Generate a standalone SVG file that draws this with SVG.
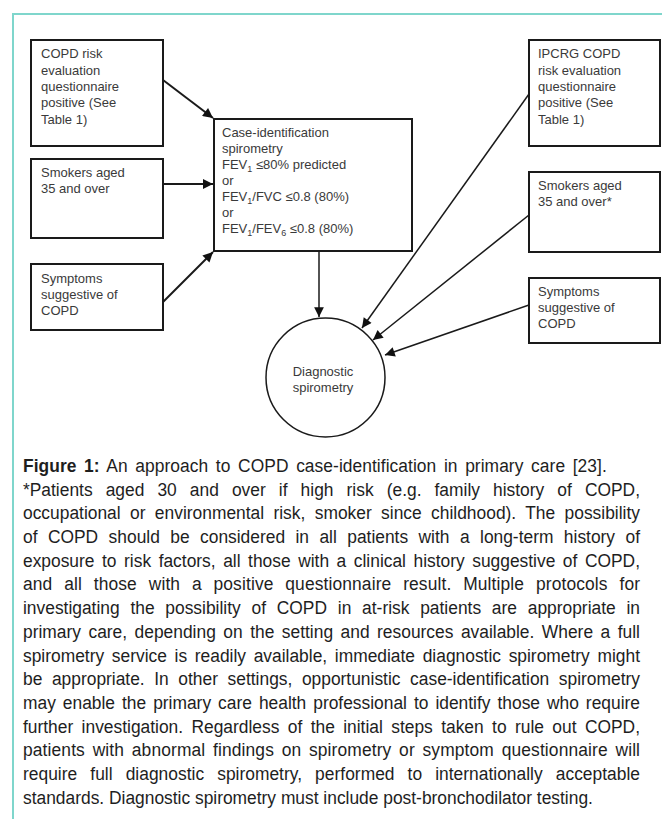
<svg xmlns="http://www.w3.org/2000/svg" width="662" height="819" viewBox="0 0 662 819">
<defs>
<marker id="ah" viewBox="0 0 10 10" refX="10" refY="5" markerWidth="5.5" markerHeight="5" orient="auto" markerUnits="strokeWidth">
<path d="M0,0 L10,5 L0,10 z" fill="#111"/>
</marker>
<marker id="ah2" viewBox="0 0 10 10" refX="10" refY="5" markerWidth="8" markerHeight="6.5" orient="auto" markerUnits="strokeWidth">
<path d="M0,0 L10,5 L0,10 z" fill="#111"/>
</marker>
</defs>
<style>
.bx{fill:#fff;stroke:#1a1a1a;stroke-width:2}
.t{font-family:"Liberation Sans",Arial,sans-serif;font-size:13px;fill:#3a3a3a}
.sub{font-size:9px}
.c{fill:none;stroke:#1a1a1a;stroke-width:2}
.c2{fill:none;stroke:#1a1a1a;stroke-width:1.5}
.cap{font-family:"Liberation Sans",Arial,sans-serif;font-size:19px;fill:#1e1e1e}
</style>
<rect width="662" height="819" fill="#fff"/>
<path d="M13,819 V14 H662" fill="none" stroke="#7fd6cc" stroke-width="2"/>

<g id="left-q">
<rect class="bx" x="31" y="40" width="132" height="106"/>
<text class="t" x="41" y="58">COPD risk</text>
<text class="t" x="41" y="75">evaluation</text>
<text class="t" x="41" y="91">questionnaire</text>
<text class="t" x="41" y="107">positive (See</text>
<text class="t" x="41" y="124">Table 1)</text>
</g>
<g id="left-smokers">
<rect class="bx" x="31" y="159" width="132" height="79"/>
<text class="t" x="41" y="177">Smokers aged</text>
<text class="t" x="41" y="193">35 and over</text>
</g>
<g id="left-symptoms">
<rect class="bx" x="31" y="264" width="132" height="66"/>
<text class="t" x="41" y="283">Symptoms</text>
<text class="t" x="41" y="299">suggestive of</text>
<text class="t" x="41" y="315">COPD</text>
</g>
<g id="case-id">
<rect class="bx" x="214" y="119" width="198" height="132"/>
<text class="t" x="222" y="137">Case-identification</text>
<text class="t" x="222" y="153">spirometry</text>
<text class="t" x="222" y="169">FEV<tspan class="sub" dy="3">1</tspan><tspan dy="-3"> ≤80% predicted</tspan></text>
<text class="t" x="222" y="185">or</text>
<text class="t" x="222" y="201">FEV<tspan class="sub" dy="3">1</tspan><tspan dy="-3">/FVC ≤0.8 (80%)</tspan></text>
<text class="t" x="222" y="217">or</text>
<text class="t" x="222" y="233">FEV<tspan class="sub" dy="3">1</tspan><tspan dy="-3">/FEV</tspan><tspan class="sub" dy="3">6</tspan><tspan dy="-3"> ≤0.8 (80%)</tspan></text>
</g>
<g id="diagnostic">
<circle cx="325.5" cy="377.5" r="59.5" fill="#fff" stroke="#1a1a1a" stroke-width="1.5"/>
<text class="t" x="323" y="376" text-anchor="middle">Diagnostic</text>
<text class="t" x="323" y="392" text-anchor="middle">spirometry</text>
</g>
<g id="right-q">
<rect class="bx" x="529" y="40" width="131" height="106"/>
<text class="t" x="538" y="58">IPCRG COPD</text>
<text class="t" x="538" y="75">risk evaluation</text>
<text class="t" x="538" y="91">questionnaire</text>
<text class="t" x="538" y="107">positive (See</text>
<text class="t" x="538" y="124">Table 1)</text>
</g>
<g id="right-smokers">
<rect class="bx" x="529" y="172" width="131" height="80"/>
<text class="t" x="538" y="190">Smokers aged</text>
<text class="t" x="538" y="206">35 and over*</text>
</g>
<g id="right-symptoms">
<rect class="bx" x="529" y="278" width="131" height="65"/>
<text class="t" x="538" y="296">Symptoms</text>
<text class="t" x="538" y="312">suggestive of</text>
<text class="t" x="538" y="328">COPD</text>
</g>

<g id="connectors">
<line class="c" x1="163" y1="80" x2="213" y2="118" marker-end="url(#ah)"/>
<line class="c" x1="163" y1="184" x2="213" y2="184" marker-end="url(#ah)"/>
<line class="c" x1="163" y1="302" x2="213" y2="252" marker-end="url(#ah)"/>
<line class="c2" x1="319" y1="251" x2="319" y2="317" marker-end="url(#ah2)"/>
<line class="c2" x1="529" y1="94" x2="362" y2="328" marker-end="url(#ah2)"/>
<line class="c2" x1="529" y1="215" x2="373" y2="340" marker-end="url(#ah2)"/>
<line class="c2" x1="529" y1="305" x2="385" y2="355" marker-end="url(#ah2)"/>
</g>

<g id="caption" transform="scale(0.915,1)">
<text class="cap" x="25.14" y="472" word-spacing="3" textLength="638" lengthAdjust="spacing"><tspan font-weight="bold">Figure 1:</tspan> An approach to COPD case-identification in primary care [23].</text>
<text class="cap" x="25.14" y="495.7" word-spacing="9.03" textLength="674.3" lengthAdjust="spacing">*Patients aged 30 and over if high risk (e.g. family history of COPD,</text>
<text class="cap" x="25.14" y="519.4" word-spacing="4.96" textLength="674.3" lengthAdjust="spacing">occupational or environmental risk, smoker since childhood). The possibility</text>
<text class="cap" x="25.14" y="543.1" word-spacing="6.12" textLength="674.3" lengthAdjust="spacing">of COPD should be considered in all patients with a long-term history of</text>
<text class="cap" x="25.14" y="566.8" word-spacing="2.96" textLength="674.3" lengthAdjust="spacing">exposure to risk factors, all those with a clinical history suggestive of COPD,</text>
<text class="cap" x="25.14" y="590.5" word-spacing="7.45" textLength="674.3" lengthAdjust="spacing">and all those with a positive questionnaire result. Multiple protocols for</text>
<text class="cap" x="25.14" y="614.2" word-spacing="6.5" textLength="674.3" lengthAdjust="spacing">investigating the possibility of COPD in at-risk patients are appropriate in</text>
<text class="cap" x="25.14" y="637.9" word-spacing="2.93" textLength="674.3" lengthAdjust="spacing">primary care, depending on the setting and resources available. Where a full</text>
<text class="cap" x="25.14" y="661.6" word-spacing="3.12" textLength="674.3" lengthAdjust="spacing">spirometry service is readily available, immediate diagnostic spirometry might</text>
<text class="cap" x="25.14" y="685.3" word-spacing="5.2" textLength="674.3" lengthAdjust="spacing">be appropriate. In other settings, opportunistic case-identification spirometry</text>
<text class="cap" x="25.14" y="709" word-spacing="2.35" textLength="674.3" lengthAdjust="spacing">may enable the primary care health professional to identify those who require</text>
<text class="cap" x="25.14" y="732.7" word-spacing="3.89" textLength="674.3" lengthAdjust="spacing">further investigation. Regardless of the initial steps taken to rule out COPD,</text>
<text class="cap" x="25.14" y="756.4" word-spacing="3" textLength="674.3" lengthAdjust="spacing">patients with abnormal findings on spirometry or symptom questionnaire will</text>
<text class="cap" x="25.14" y="780.1" word-spacing="8.99" textLength="674.3" lengthAdjust="spacing">require full diagnostic spirometry, performed to internationally acceptable</text>
<text class="cap" x="25.14" y="803.8">standards. Diagnostic spirometry must include post-bronchodilator testing.</text>
</g>
</svg>
